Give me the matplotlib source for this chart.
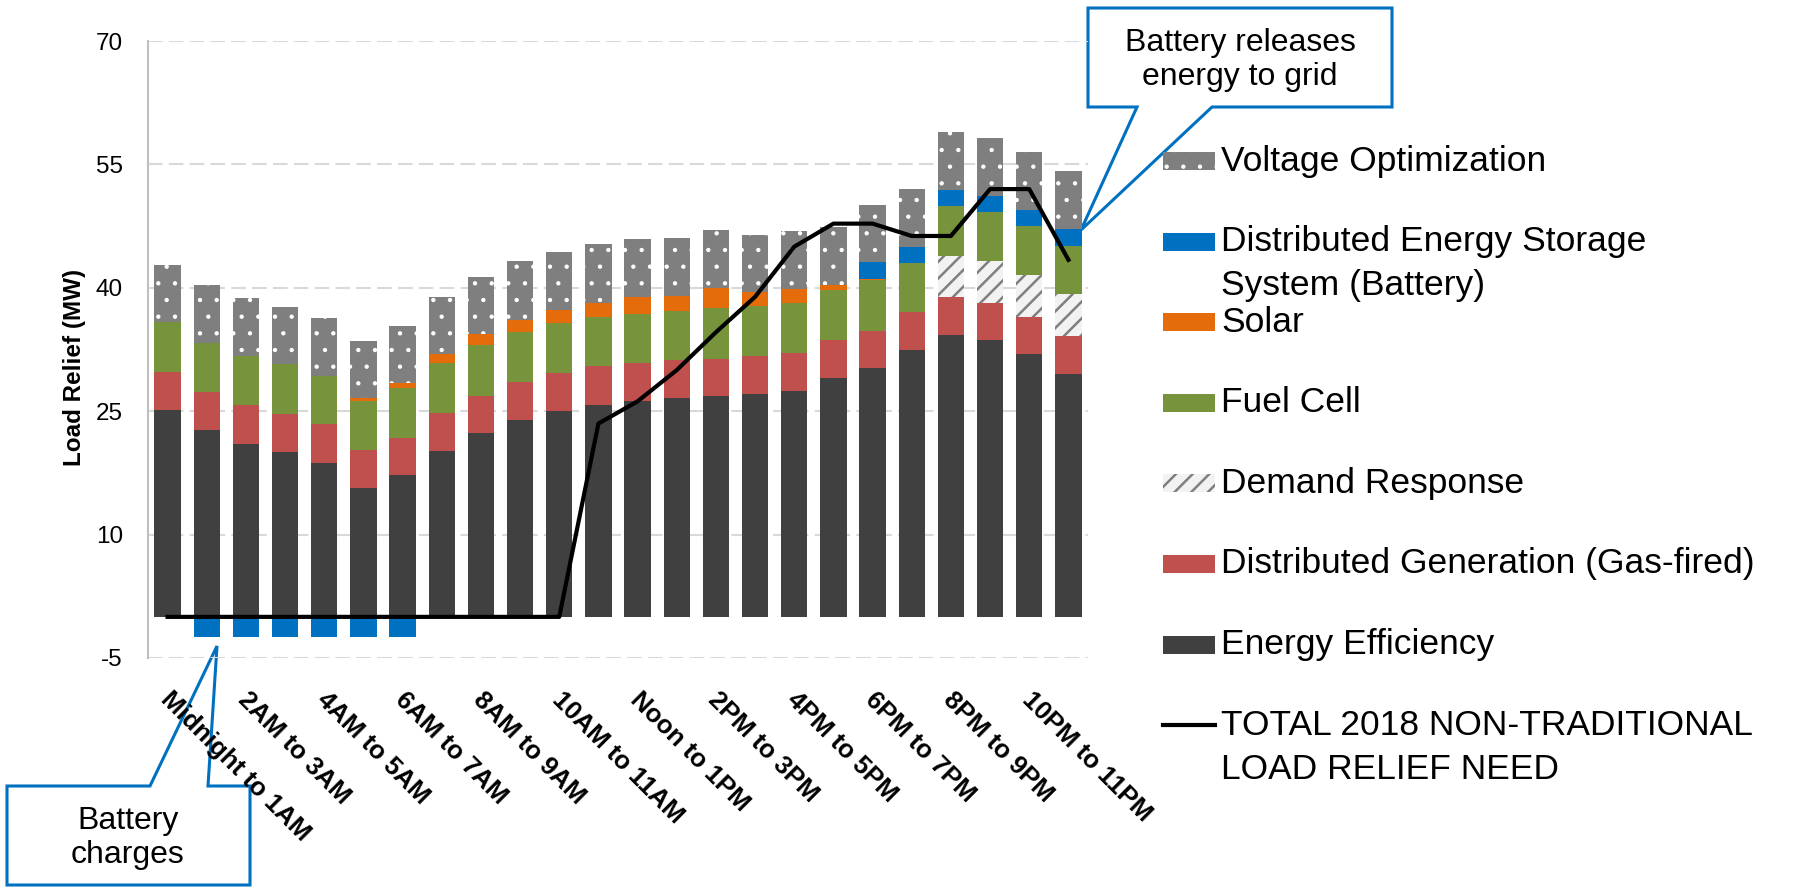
import numpy as np
import matplotlib
matplotlib.use('Agg')
import matplotlib.pyplot as plt
import matplotlib.transforms as mtransforms
from matplotlib.patches import Polygon, Rectangle
from matplotlib.lines import Line2D

plt.rcParams['font.family'] = ['Liberation Sans', 'DejaVu Sans']
plt.rcParams['axes.unicode_minus'] = False
plt.rcParams['hatch.linewidth'] = 1.2

W, H = 1805, 889

hours = ['Midnight to 1AM', '1AM to 2AM', '2AM to 3AM', '3AM to 4AM', '4AM to 5AM',
         '5AM to 6AM', '6AM to 7AM', '7AM to 8AM', '8AM to 9AM', '9AM to 10AM',
         '10AM to 11AM', '11AM to Noon', 'Noon to 1PM', '1PM to 2PM', '2PM to 3PM',
         '3PM to 4PM', '4PM to 5PM', '5PM to 6PM', '6PM to 7PM', '7PM to 8PM',
         '8PM to 9PM', '9PM to 10PM', '10PM to 11PM', '11PM to Midnight']

energy_eff = [25.2, 22.7, 21.0, 20.0, 18.7, 15.7, 17.2, 20.2, 22.4, 23.9, 25.0, 25.8,
              26.3, 26.6, 26.8, 27.1, 27.5, 29.0, 30.2, 32.4, 34.3, 33.6, 31.9, 29.5]
dist_gen = [4.6, 4.6, 4.7, 4.7, 4.7, 4.6, 4.6, 4.6, 4.5, 4.7, 4.7, 4.7,
            4.5, 4.6, 4.6, 4.6, 4.6, 4.7, 4.6, 4.6, 4.6, 4.6, 4.6, 4.6]
demand_resp = [0, 0, 0, 0, 0, 0, 0, 0, 0, 0, 0, 0,
               0, 0, 0, 0, 0, 0, 0, 0, 5.0, 5.0, 5.0, 5.1]
fuel_cell = [6.0, 6.0, 6.0, 6.0, 5.9, 6.0, 6.0, 6.1, 6.1, 6.0, 6.0, 6.0,
             6.0, 6.0, 6.1, 6.1, 6.0, 6.0, 6.1, 6.0, 6.0, 6.0, 6.0, 5.9]
solar = [0, 0, 0, 0, 0, 0.3, 0.6, 1.0, 1.4, 1.5, 1.6, 1.7,
         2.1, 1.8, 2.5, 1.7, 1.7, 0.7, 0.2, 0, 0, 0, 0, 0]
battery = [0, -2.4, -2.4, -2.4, -2.4, -2.4, -2.4, 0, 0, 0, 0, 0,
           0, 0, 0, 0, 0, 0, 2.0, 2.0, 2.0, 2.0, 2.0, 2.0]
volt_opt = [7.0, 7.0, 7.0, 7.0, 7.0, 6.9, 7.0, 7.0, 6.9, 7.1, 7.0, 7.1,
            7.0, 7.0, 7.0, 6.9, 7.1, 7.0, 7.0, 7.0, 7.0, 7.0, 7.0, 7.1]
need = [0, 0, 0, 0, 0, 0, 0, 0, 0, 0, 0, 23.5,
        26.2, 30.0, 34.6, 38.9, 45.0, 47.8, 47.8, 46.3, 46.3, 52.0, 52.0, 43.4]

y_ticks = [-5, 10, 25, 40, 55, 70]

styles = {
    'Voltage Optimization': dict(facecolor='#7F7F7F', edgecolor='white', hatch='.', linewidth=0),
    'Distributed Energy Storage\nSystem (Battery)': dict(facecolor='#0070C0', linewidth=0),
    'Solar': dict(facecolor='#E46C0A', linewidth=0),
    'Fuel Cell': dict(facecolor='#77933C', linewidth=0),
    'Demand Response': dict(facecolor='#F2F2F2', edgecolor='#7F7F7F', hatch='//', linewidth=0),
    'Distributed Generation (Gas-fired)': dict(facecolor='#C0504D', linewidth=0),
    'Energy Efficiency': dict(facecolor='#404040', linewidth=0),
}
hatch_lw = {'Voltage Optimization': 0.7, 'Demand Response': 1.8}

stack = [('Energy Efficiency', energy_eff),
         ('Distributed Generation (Gas-fired)', dist_gen),
         ('Demand Response', demand_resp),
         ('Fuel Cell', fuel_cell),
         ('Solar', solar),
         ('Distributed Energy Storage\nSystem (Battery)', battery),
         ('Voltage Optimization', volt_opt)]


def set_hlw(patch, name):
    if name in hatch_lw and hasattr(patch, 'set_hatch_linewidth'):
        patch.set_hatch_linewidth(hatch_lw[name])


fig = plt.figure(figsize=(W / 100, H / 100), dpi=100)
ax = fig.add_axes([148 / W, 1 - 658 / H, 940 / W, 617 / H])
ax.patch.set_visible(False)

x = np.arange(len(hours))
pos_bottom = np.zeros(len(hours))
for name, vals in stack:
    vals = np.array(vals, dtype=float)
    bottom = np.where(vals >= 0, pos_bottom, 0)
    bars = ax.bar(x, vals, 0.67, bottom=bottom, zorder=2, **styles[name])
    for b in bars:
        set_hlw(b, name)
    pos_bottom += np.clip(vals, 0, None)

ax.plot(x, need, color='black', lw=3.0, zorder=4, solid_joinstyle='round')

ax.set_xlim(-0.5, 23.5)
ax.set_ylim(-5, 70)
ax.set_yticks(y_ticks)
ax.tick_params(axis='y', length=0, pad=18, labelsize=17.5)
ax.set_xticks(x[::2])
ax.set_xticklabels(hours[::2], rotation=-45, ha='left', va='top',
                   rotation_mode='anchor', fontsize=18.5, fontweight='bold')
ax.tick_params(axis='x', length=0, pad=21)
offset = mtransforms.ScaledTranslation(5 / 100, 0, fig.dpi_scale_trans)
for lab in ax.get_xticklabels():
    lab.set_transform(lab.get_transform() + offset)

ax.yaxis.grid(True, color='#D9D9D9', linestyle=(0, (7, 3)), lw=1.5, zorder=0)
ax.set_axisbelow(True)
for s in ['top', 'right', 'bottom']:
    ax.spines[s].set_visible(False)
ax.spines['left'].set_color('#BFBFBF')
ax.spines['left'].set_linewidth(1.5)

ax.set_ylabel('Load Relief (MW)', fontsize=17.5, fontweight='bold')
ax.yaxis.set_label_coords(-0.066, 0.471)


def fpx(px, py):
    return (px / W, 1 - py / H)


# legend drawn by hand so that two-line labels hang below their key
legend_order = ['Voltage Optimization', 'Distributed Energy Storage\nSystem (Battery)',
                'Solar', 'Fuel Cell', 'Demand Response',
                'Distributed Generation (Gas-fired)', 'Energy Efficiency',
                'TOTAL 2018 NON-TRADITIONAL\nLOAD RELIEF NEED']
for k, label in enumerate(legend_order):
    yc = 161 + 80.6 * k
    if label in styles:
        x0, y0 = fpx(1163, yc + 9)
        r = Rectangle((x0, y0), 52 / W, 18 / H, transform=fig.transFigure, **styles[label])
        set_hlw(r, label)
        fig.add_artist(r)
    else:
        fig.add_artist(Line2D([1163 / W, 1215 / W], [1 - yc / H] * 2,
                              transform=fig.transFigure, color='black', lw=3.0))
    for j, line in enumerate(label.split('\n')):
        tx, ty = fpx(1221, yc + 44 * j)
        fig.text(tx, ty, line, fontsize=25.5, va='center', ha='left')


# callouts sit under the axes so the tick labels stay readable over them
def callout(pts, text, center):
    fig.add_artist(Polygon([fpx(*p) for p in pts], closed=True, transform=fig.transFigure,
                           facecolor='white', edgecolor='#0070C0', lw=2.2, zorder=-1))
    cx, cy = fpx(*center)
    fig.text(cx, cy, text, fontsize=23, ha='center', va='center', zorder=11,
             linespacing=1.2)


callout([(1088, 8), (1392, 8), (1392, 107), (1212, 107), (1081, 230), (1137, 107), (1088, 107)],
        'Battery releases\nenergy to grid', (1240, 60))
callout([(7, 786), (150, 786), (217, 646), (208, 786), (250, 786), (250, 885), (7, 885)],
        'Battery\ncharges', (128, 838))

fig.savefig('out.png', dpi=100)
